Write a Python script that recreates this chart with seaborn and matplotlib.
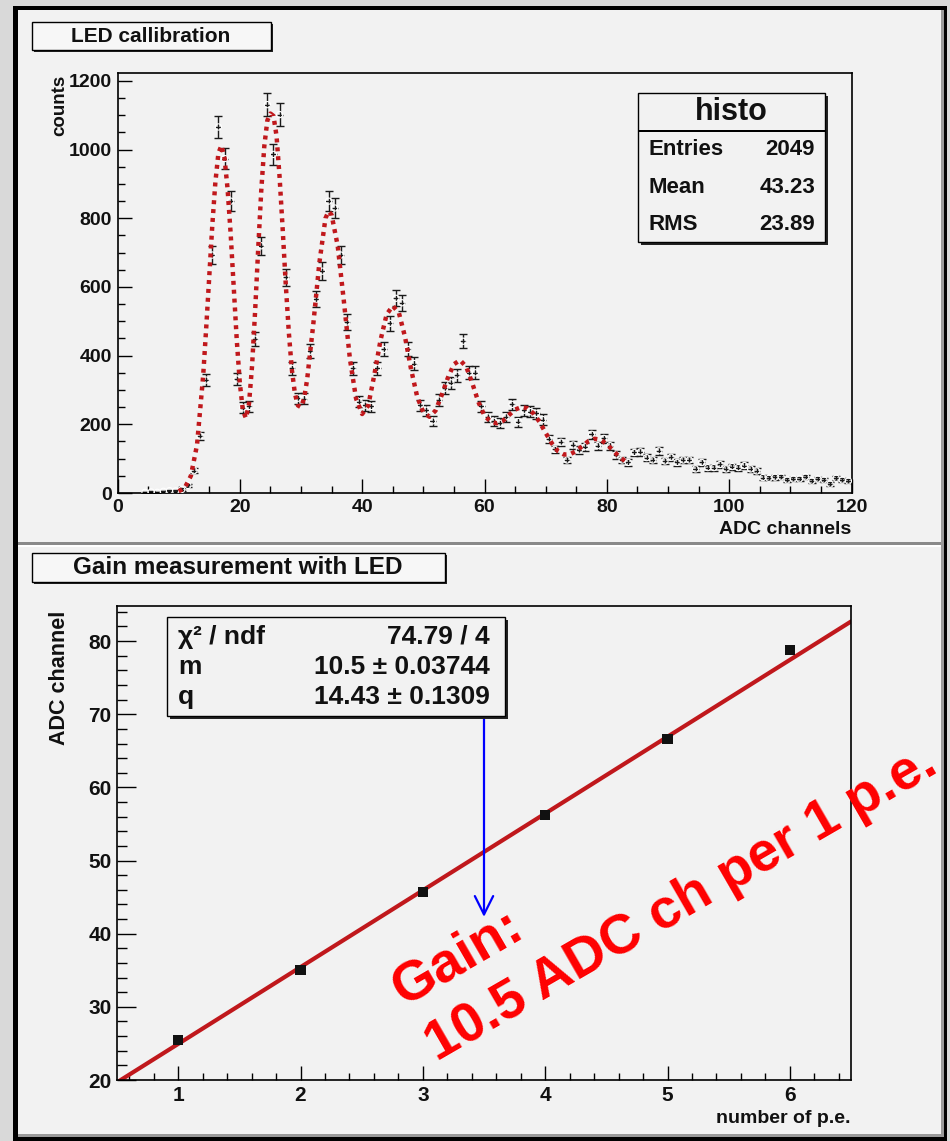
import matplotlib
matplotlib.use('Agg')
import numpy as np
import matplotlib.pyplot as plt
import seaborn as sns
from matplotlib.patches import Rectangle
from matplotlib.ticker import MultipleLocator

# ==============================================================================
# DATA
# ==============================================================================

# LED spectrum, 1 ADC channel per bin, first drawn bin is channel 4
first_bin = 4
counts = [2, 3, 2, 5, 7, 6, 10, 22, 65, 166,
          329, 693, 1066, 974, 850, 332, 248, 252, 448, 720,
          1131, 986, 1102, 628, 363, 276, 275, 413, 564, 646,
          850, 830, 693, 498, 363, 266, 256, 252, 363, 418,
          494, 567, 554, 418, 377, 256, 241, 210, 271, 305,
          321, 343, 442, 350, 350, 253, 222, 209, 203, 222,
          258, 208, 241, 237, 232, 214, 157, 127, 148, 96,
          140, 125, 135, 171, 138, 159, 138, 111, 96, 89,
          118, 120, 103, 96, 123, 93, 104, 89, 96, 96,
          70, 89, 74, 74, 83, 70, 77, 74, 80, 70,
          64, 45, 43, 46, 47, 38, 41, 41, 47, 35,
          41, 38, 26, 43, 38, 35]

# multi-gaussian fit curve
fit_x = [10, 11, 12, 13, 14, 14.5, 15, 15.5, 16, 16.5, 17, 17.5, 18, 18.5, 19, 19.5,
         20, 20.5, 21, 21.5, 22, 22.5, 23, 23.5, 24, 24.5, 25, 25.5, 26, 26.5, 27, 27.5,
         28, 28.5, 29, 29.5, 30, 30.5, 31, 32, 33, 34, 34.5, 35, 36, 37, 38, 39,
         40, 41, 42, 43, 44, 45, 46, 47, 48, 49, 50, 51, 52, 53, 54, 55,
         56, 57, 58, 59, 60, 61, 62, 63, 64, 65, 66, 67, 68, 69, 70, 71,
         72, 73, 74, 75, 76, 77, 78, 79, 80, 81, 82, 83]
fit_y = [5, 15, 50, 140, 340, 480, 630, 780, 905, 990, 1012, 975, 885, 755, 600, 445,
         320, 240, 218, 260, 370, 530, 710, 880, 1010, 1085, 1105, 1098, 1040, 920, 770, 610,
         470, 360, 290, 255, 250, 275, 330, 490, 670, 800, 820, 810, 720, 560, 390, 275,
         230, 255, 345, 445, 520, 545, 525, 455, 360, 280, 235, 222, 240, 285, 335, 375,
         387, 368, 320, 265, 225, 208, 203, 210, 227, 243, 250, 247, 232, 207, 175, 145,
         122, 112, 113, 122, 137, 151, 158, 155, 142, 124, 106, 93]

hist_stats = [('Entries', '2049'), ('Mean', '43.23'), ('RMS', '23.89')]

# gain measurement: peak position vs number of photoelectrons
n_pe = [1, 2, 3, 4, 5, 6]
peak_adc = [25.5, 35.0, 45.7, 56.2, 66.6, 78.8]
fit_m = 10.5
fit_q = 14.43
fit_rows = [('χ² / ndf', '74.79 / 4'),
            ('m', '10.5 ± 0.03744'),
            ('q', '14.43 ± 0.1309')]

# ==============================================================================
# STYLE
# ==============================================================================

W, H = 950, 1141
OUTER = '#d9d9d9'
PAD = '#f2f2f2'
BOX = '#f7f7f7'
FIT_RED = '#c0181c'
INK = '#111111'

sns.set_theme(style='white')
plt.rcParams['font.family'] = ['Liberation Sans', 'DejaVu Sans']
plt.rcParams['font.weight'] = 'bold'


def fx(px):
    return px / W


def fy(py):
    return 1 - py / H


def px_rect(fig, x0, y0, x1, y1, z=-10, **kw):
    r = Rectangle((fx(x0), fy(y1)), fx(x1) - fx(x0), fy(y0) - fy(y1),
                  transform=fig.transFigure, zorder=z, **kw)
    fig.add_artist(r)
    return r


def shadow_box(fig, x0, y0, x1, y1, face, off=3):
    px_rect(fig, x0 + off, y0 + off, x1 + off, y1 + off, z=5,
            facecolor='#222222', edgecolor='none')
    px_rect(fig, x0, y0, x1, y1, z=6, facecolor=face, edgecolor='black', lw=1.0)


def root_axes(ax, xmaj, xmin, ymaj, ymin, size, ylen):
    ax.set_facecolor(PAD)
    for s in ax.spines.values():
        s.set_color('black')
        s.set_linewidth(1.2)
    ax.xaxis.set_major_locator(MultipleLocator(xmaj))
    ax.xaxis.set_minor_locator(MultipleLocator(xmin))
    ax.yaxis.set_major_locator(MultipleLocator(ymaj))
    ax.yaxis.set_minor_locator(MultipleLocator(ymin))
    ax.tick_params(which='both', direction='in', top=False, right=False,
                   bottom=True, left=True, color='black', width=1.0,
                   labelsize=size, labelcolor=INK, pad=4)
    ax.tick_params(axis='x', which='major', length=10)
    ax.tick_params(axis='x', which='minor', length=5)
    ax.tick_params(axis='y', which='major', length=ylen)
    ax.tick_params(axis='y', which='minor', length=ylen / 2)
    ax.grid(False)


def box_text(fig, px, py, s, size, **kw):
    fig.text(fx(px), fy(py), s, fontsize=size, fontweight='bold', color=INK,
             va='center', zorder=7, **kw)


# ==============================================================================
# FIGURE
# ==============================================================================

fig = plt.figure(figsize=(W / 100, H / 100), dpi=100, facecolor=OUTER)

# canvas frame and two pads (behind the axes)
px_rect(fig, 13, 6, 947, 1141, facecolor='black', edgecolor='none')
px_rect(fig, 18, 10, 944, 1137, facecolor=PAD, edgecolor='none')
px_rect(fig, 18, 542, 944, 545, facecolor='#8a8a8a', edgecolor='none')
px_rect(fig, 18, 545, 944, 547, facecolor='#ffffff', edgecolor='none')
px_rect(fig, 941, 10, 944, 1137, facecolor='#9a9a9a', edgecolor='none')
px_rect(fig, 18, 1134, 944, 1137, facecolor='#9a9a9a', edgecolor='none')

# ---------------- top pad: LED spectrum ----------------
ax1 = fig.add_axes([fx(117.5), fy(493), fx(851.5) - fx(117.5), fy(72.7) - fy(493)])
centers = np.arange(first_bin, first_bin + len(counts)) + 0.5
cnt = np.array(counts, dtype=float)

ax1.errorbar(centers, cnt, yerr=np.sqrt(cnt), fmt='none', ecolor='#1a1a1a',
             elinewidth=1.0, capsize=2.8, capthick=1.0, zorder=2)
ax1.errorbar(centers, cnt, xerr=0.5, fmt='none', ecolor='#1a1a1a',
             elinewidth=1.0, capsize=0, zorder=2)
sns.scatterplot(x=centers, y=cnt, marker='o', s=20, color='#1a1a1a',
                facecolor='none', linewidth=0.8, ax=ax1, zorder=3)
sns.lineplot(x=fit_x, y=fit_y, estimator=None, sort=False, color=FIT_RED,
             lw=3.2, linestyle=(0, (0.9, 1.1)), ax=ax1, zorder=4)

ax1.set_xlim(0, 120)
ax1.set_ylim(0, 1224)
root_axes(ax1, 20, 5, 200, 50, 14, 10)
ax1.set_xlabel('ADC channels', fontsize=14, fontweight='bold', color=INK, loc='right')
ax1.xaxis.set_label_coords(1.0, -0.066)
ax1.set_ylabel('counts', fontsize=13.5, fontweight='bold', color=INK, loc='top')
ax1.yaxis.set_label_coords(-0.067, 0.995)

# stats box
shadow_box(fig, 638, 93, 825, 242, PAD)
px_rect(fig, 638, 130, 825, 131.5, z=7, facecolor='black', edgecolor='none')
box_text(fig, 731, 112, 'histo', 22, ha='center')
for i, (name, val) in enumerate(hist_stats):
    box_text(fig, 648, 150 + 37 * i, name, 16, ha='left')
    box_text(fig, 815, 150 + 37 * i, val, 16, ha='right')

# title box
shadow_box(fig, 32, 22, 271, 50, BOX, off=2)
box_text(fig, 151, 36, 'LED callibration', 15, ha='center')

# ---------------- bottom pad: gain ----------------
ax2 = fig.add_axes([fx(117), fy(1080), fx(851) - fx(117), fy(606) - fy(1080)])
line_x = np.array([n_pe[0] - 0.5, n_pe[-1] + 0.5])
sns.lineplot(x=line_x, y=fit_m * line_x + fit_q, color=FIT_RED, lw=3.0, ax=ax2, zorder=2)
sns.scatterplot(x=n_pe, y=peak_adc, marker='s', s=55, color=INK, edgecolor='none',
                ax=ax2, zorder=3)
ax2.set_xlim(0.5, 6.5)
ax2.set_ylim(20, 84.8)
root_axes(ax2, 1, 0.2, 10, 2, 15, 14)
ax2.set_xlabel('number of p.e.', fontsize=14, fontweight='bold', color=INK, loc='right')
ax2.xaxis.set_label_coords(1.0, -0.063)
ax2.set_ylabel('ADC channel', fontsize=15.5, fontweight='bold', color=INK, loc='top')
ax2.yaxis.set_label_coords(-0.064, 0.99)

# fit parameter box
shadow_box(fig, 167, 617, 505, 716, PAD)
for i, (name, val) in enumerate(fit_rows):
    box_text(fig, 178, 637 + 30 * i, name, 19, ha='left')
    box_text(fig, 490, 637 + 30 * i, val, 19, ha='right')

# arrow from the slope value down to the annotation
ax2.annotate('', xy=(3.5, 42.3), xytext=(3.5, 75.3),
             arrowprops=dict(arrowstyle='->,head_length=1.1,head_width=0.55',
                             color='#0000ff', lw=1.6, shrinkA=0, shrinkB=0),
             zorder=8)

fig.text(fx(404), fy(1006), 'Gain:', fontsize=40, fontweight='bold', color='#ff0000',
         rotation=30, rotation_mode='anchor', ha='left', va='baseline', zorder=8)
fig.text(fx(437), fy(1062), '10.5 ADC ch per 1 p.e.', fontsize=40, fontweight='bold',
         color='#ff0000', rotation=30, rotation_mode='anchor', ha='left', va='baseline',
         zorder=8)

# title box
shadow_box(fig, 32, 553, 445, 582, BOX, off=2)
box_text(fig, 238, 567.5, 'Gain measurement with LED', 17.5, ha='center')

fig.savefig('out.png', dpi=100, facecolor=OUTER)
